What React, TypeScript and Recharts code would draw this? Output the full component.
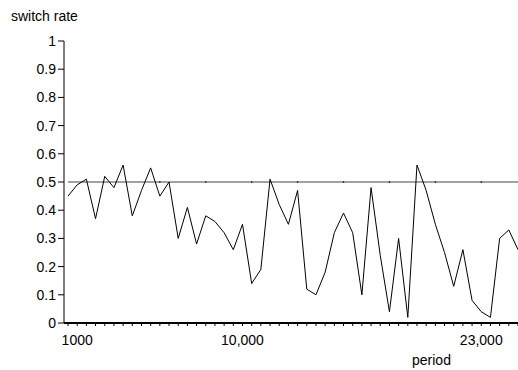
import React from 'react';
import { LineChart, Line, XAxis, YAxis, ReferenceLine, ReferenceDot } from 'recharts';

const periods = [
  500, 1000, 1500, 2000, 2500, 3000, 3500, 4000, 4500, 5000,
  5500, 6000, 6500, 7000, 7500, 8000, 8500, 9000, 9500, 10000,
  10500, 11000, 11500, 12000, 12500, 13000, 13500, 14000, 14500, 15000,
  15500, 16000, 16500, 17000, 17500, 18000, 18500, 19000, 19500, 20000,
  20500, 21000, 21500, 22000, 22500, 23000, 23500, 24000, 24500, 25000,
];

const switchRate = [
  0.45, 0.49, 0.51, 0.37, 0.52, 0.48, 0.56, 0.38, 0.47, 0.55,
  0.45, 0.5, 0.3, 0.41, 0.28, 0.38, 0.36, 0.32, 0.26, 0.35,
  0.14, 0.19, 0.51, 0.42, 0.35, 0.47, 0.12, 0.1, 0.18, 0.32,
  0.39, 0.32, 0.1, 0.48, 0.24, 0.04, 0.3, 0.02, 0.56, 0.47,
  0.35, 0.25, 0.13, 0.26, 0.08, 0.04, 0.02, 0.3, 0.33, 0.26,
];

const labeledTicks = [1000, 10000, 23000];
const tickLabels = ['1000', '10,000', '23,000'];
const yTicks = [0, 0.1, 0.2, 0.3, 0.4, 0.5, 0.6, 0.7, 0.8, 0.9, 1];
const yTickLabels = ['0', '0.1', '0.2', '0.3', '0.4', '0.5', '0.6', '0.7', '0.8', '0.9', '1'];
const threshold = 0.5;
const markerPeriods = [5500, 8000, 10500, 13000, 15500, 18000, 20500, 23000];

const data = periods.map((p, i) => ({ period: p, rate: switchRate[i] }));

const FONT = '"Liberation Sans", Arial, Helvetica, sans-serif';

export default function App() {
  return (
    <div style={{ position: 'absolute', left: 0, top: 0, width: 518, height: 370, fontFamily: FONT }}>
      <div style={{ position: 'absolute', left: 11, top: 8, fontSize: 14, lineHeight: '16px', color: '#000' }}>
        switch rate
      </div>
      <div style={{ position: 'absolute', left: 412, top: 352, fontSize: 14, lineHeight: '16px', color: '#000' }}>
        period
      </div>
      <LineChart width={518} height={370} data={data} margin={{ top: 41, right: 0, left: 0, bottom: 0 }}>
        <XAxis
          type="number"
          dataKey="period"
          domain={[282, 25000]}
          allowDataOverflow
          ticks={periods}
          interval={0}
          tickSize={3}
          tickMargin={9}
          height={47}
          axisLine={{ stroke: '#000', strokeWidth: 2 }}
          tickLine={{ stroke: '#000' }}
          tick={{ fill: '#000', fontSize: 14, fontFamily: FONT }}
          tickFormatter={(v: number) => {
            const idx = labeledTicks.indexOf(v);
            return idx >= 0 ? tickLabels[idx] : '';
          }}
        />
        <YAxis
          type="number"
          domain={[0, 1]}
          ticks={yTicks}
          interval={0}
          width={64}
          tickSize={6}
          tickMargin={2}
          axisLine={{ stroke: '#000' }}
          tickLine={{ stroke: '#000' }}
          tick={{ fill: '#000', fontSize: 14, fontFamily: FONT }}
          tickFormatter={(v: number) => {
            const idx = yTicks.indexOf(v);
            return idx >= 0 ? yTickLabels[idx] : String(v);
          }}
        />
        <ReferenceLine
          segment={[{ x: periods[0], y: threshold }, { x: periods[periods.length - 1], y: threshold }]}
          stroke="#444"
          strokeWidth={1}
        />
        {markerPeriods.map((p) => (
          <ReferenceDot key={p} x={p} y={threshold} r={0.8} fill="#000" stroke="none" />
        ))}
        <Line
          type="linear"
          dataKey="rate"
          stroke="#000"
          strokeWidth={1}
          dot={false}
          activeDot={false}
          isAnimationActive={false}
        />
      </LineChart>
    </div>
  );
}
